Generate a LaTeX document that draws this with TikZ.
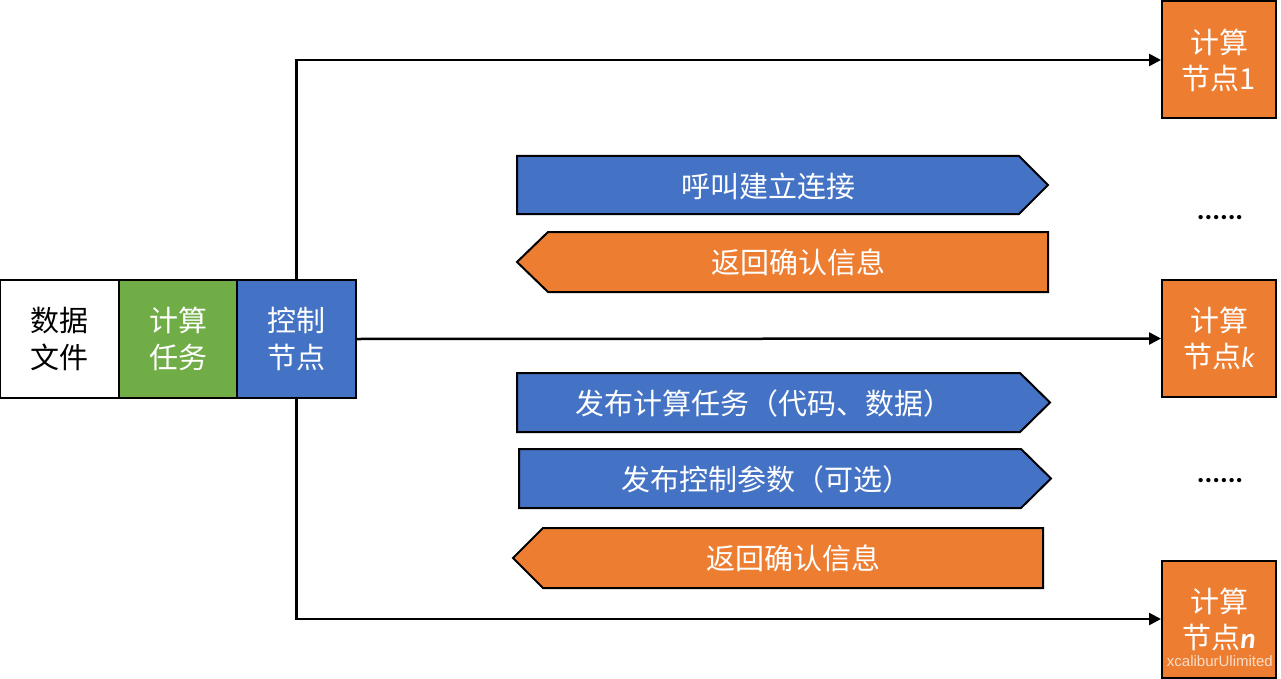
\documentclass[tikz,border=0pt]{standalone}
\usepackage{fontspec}
\setmainfont{Noto Sans CJK SC}
\newfontfamily\latfont{Carlito}
\newfontfamily\wmfont{Liberation Sans}
\usetikzlibrary{arrows.meta}
\definecolor{cblue}{HTML}{4472C4}
\definecolor{corange}{HTML}{ED7D31}
\definecolor{cgreen}{HTML}{70AD47}
\begin{document}
\begin{tikzpicture}[x=1pt,y=-1pt,
  box/.style={draw=black,line width=2pt,minimum width=119pt,minimum height=118pt,inner sep=0pt,align=center,font=\fontsize{29}{37}\selectfont},
  cnode/.style={draw=black,line width=2pt,fill=corange,text=white,minimum width=114pt,minimum height=117pt,inner sep=0pt,align=center,font=\fontsize{29}{36}\selectfont},
  sig/.style={draw=black,line width=2pt,line join=miter},
  lbl/.style={text=white,inner sep=0pt,font=\fontsize{29}{35}\selectfont},
  conn/.style={line width=2.5pt,-{Triangle[length=12pt,width=12pt]}},
  dotsty/.style={inner sep=0pt,font=\latfont\bfseries\fontsize{29}{35}\selectfont}]
\useasboundingbox (0,0) rectangle (1281,679);
\fill[white] (0,0) rectangle (1281,679);

% left boxes
\node[box,fill=white] (data) at (59.5,339) {数据\\文件};
\node[box,fill=cgreen,text=white] (task) at (178,339) {计算\\任务};
\node[box,fill=cblue,text=white] (ctrl) at (296.5,339) {控制\\节点};

% compute nodes
\node[cnode] (n1) at (1219,60) {计算\\节点1};
\node[cnode] (nk) at (1219,338.5) {计算\\节点{\latfont\itshape k}};
\node[cnode] (nn) at (1219,619) {计算\\节点{\latfont\bfseries\itshape n}};

% connectors
\draw[conn] (ctrl.north) |- (n1.west);
\draw[conn] (ctrl.east) -- (nk.west);
\draw[conn] (ctrl.south) |- (nn.west);

% signal arrows
\draw[sig,fill=cblue] (517,156) -- (1019,156) -- (1048,185) -- (1019,214) -- (517,214) -- cycle;
\node[lbl] (s1) at (768,186) {呼叫建立连接};
\draw[sig,fill=corange] (548,232) -- (1048,232) -- (1048,292) -- (548,292) -- (517,262) -- cycle;
\node[lbl] (s2) at (798,262) {返回确认信息};
\draw[sig,fill=cblue] (517,373) -- (1020,373) -- (1050,402.5) -- (1020,432) -- (517,432) -- cycle;
\node[lbl] (s3) at (764,403) {发布计算任务（代码、数据）};
\draw[sig,fill=cblue] (519,449) -- (1021,449) -- (1051,478.5) -- (1021,508) -- (519,508) -- cycle;
\node[lbl] (s4) at (766,479) {发布控制参数（可选）};
\draw[sig,fill=corange] (543,528) -- (1043,528) -- (1043,588) -- (543,588) -- (513,558) -- cycle;
\node[lbl] (s5) at (793,558) {返回确认信息};

% dots
\node[dotsty] (d1) at (1220,218) {......};
\node[dotsty] (d2) at (1220,481) {......};

% watermark
\node[anchor=east,inner sep=0pt,text=white,opacity=0.75,font=\wmfont\fontsize{15}{17}\selectfont] (wm) at (1273,661) {xcaliburUlimited};
\end{tikzpicture}
\end{document}
